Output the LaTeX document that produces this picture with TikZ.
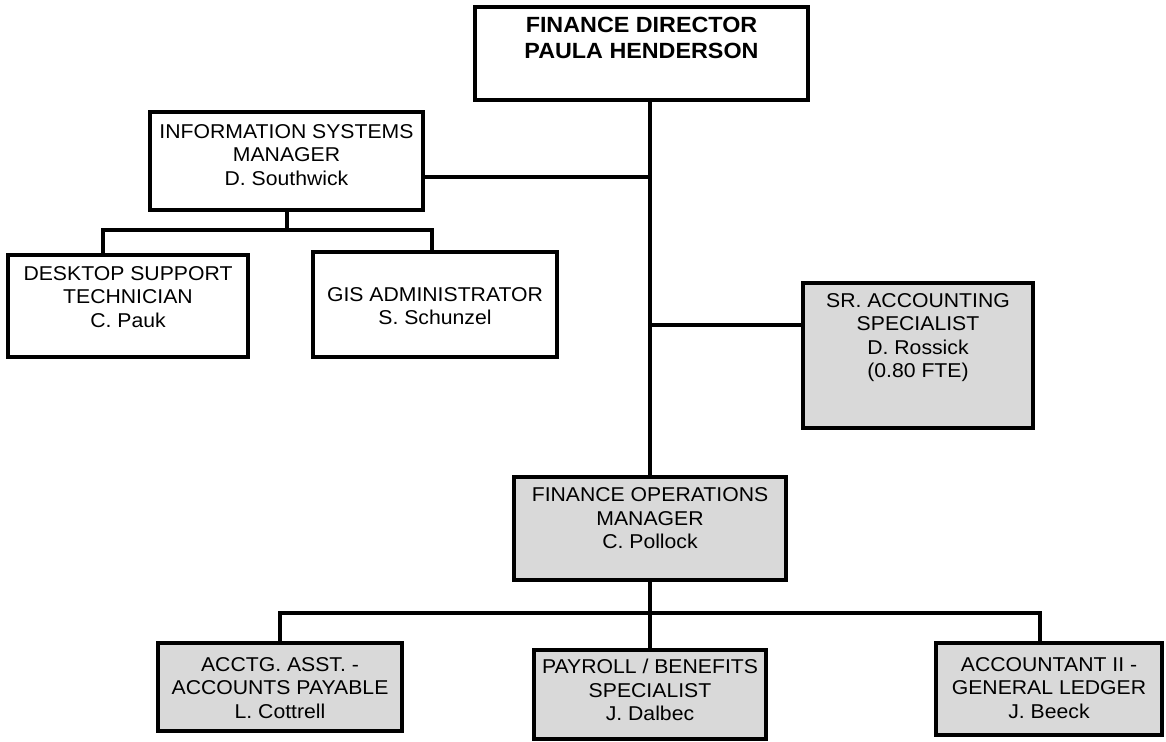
\documentclass[tikz,border=0pt]{standalone}
\usepackage{fontspec}
\setmainfont{Liberation Sans}[FakeStretch=1.06]
\usetikzlibrary{calc}
\definecolor{boxgray}{RGB}{217,217,217}
\newcommand\boxtxt[4]{\parbox[c][#2pt][t]{#1pt}{\centering\vspace*{#3pt}#4\par}}
\begin{document}
\begin{tikzpicture}[x=1pt,y=-1pt,
  box/.style={draw, line width=4pt, inner sep=0pt, outer sep=0pt, fill=white,
    font=\fontsize{20}{23.5}\selectfont},
  gbox/.style={box, fill=boxgray},
  topfont/.style={font=\bfseries\fontsize{22}{26}\selectfont},
  conn/.style={line width=4pt}]
\path[use as bounding box] (0,0) rectangle (1166,741);

\node[box, topfont] (fd) at (641.5,53.5) {\boxtxt{333}{93}{10.5}{FINANCE DIRECTOR\\PAULA HENDERSON}};
\node[box] (is) at (286.5,161) {\boxtxt{273}{98}{12.5}{INFORMATION SYSTEMS\\MANAGER\\D. Southwick}};
\node[box] (ds) at (128,306) {\boxtxt{240}{102}{11.5}{DESKTOP SUPPORT\\TECHNICIAN\\C. Pauk}};
\node[box] (gis) at (435,304.5) {\boxtxt{244}{105}{35.5}{GIS ADMINISTRATOR\\S. Schunzel}};
\node[gbox] (sr) at (918,355.5) {\boxtxt{230}{145}{10.5}{SR. ACCOUNTING\\SPECIALIST\\D. Rossick\\(0.80 FTE)}};
\node[gbox] (fom) at (650,528.5) {\boxtxt{272}{103}{11}{FINANCE OPERATIONS\\MANAGER\\C. Pollock}};
\node[gbox] (acctg) at (280,687) {\boxtxt{244}{88}{14.5}{ACCTG. ASST. -\\ACCOUNTS PAYABLE\\L. Cottrell}};
\node[gbox] (pay) at (650,694.5) {\boxtxt{232}{89}{9}{PAYROLL / BENEFITS\\SPECIALIST\\J. Dalbec}};
\node[gbox] (acc2) at (1049,689) {\boxtxt{226}{92}{14.5}{ACCOUNTANT II -\\GENERAL LEDGER\\J. Beeck}};

\coordinate (isj) at ($(is.east)+(0,16)$);
\coordinate (srj) at ($(sr.west)+(0,-30.5)$);
\coordinate (isL) at (103,230);
\coordinate (isR) at (432,230);
\coordinate (opR) at (1040,613);

\draw[conn] (fd.south -| fom.north) -- (fom.north);
\draw[conn] (isj) -- (isj -| fom.north);
\draw[conn] (srj) -- (srj -| fom.north);
\draw[conn] (is.south) -- (is.south |- isL);
\draw[conn] (ds.north -| isL) |- (isR) -- (gis.north -| isR);
\draw[conn] (fom.south) -- (pay.north);
\draw[conn] (acctg.north) |- (opR) -- (acc2.north -| opR);
\end{tikzpicture}
\end{document}
